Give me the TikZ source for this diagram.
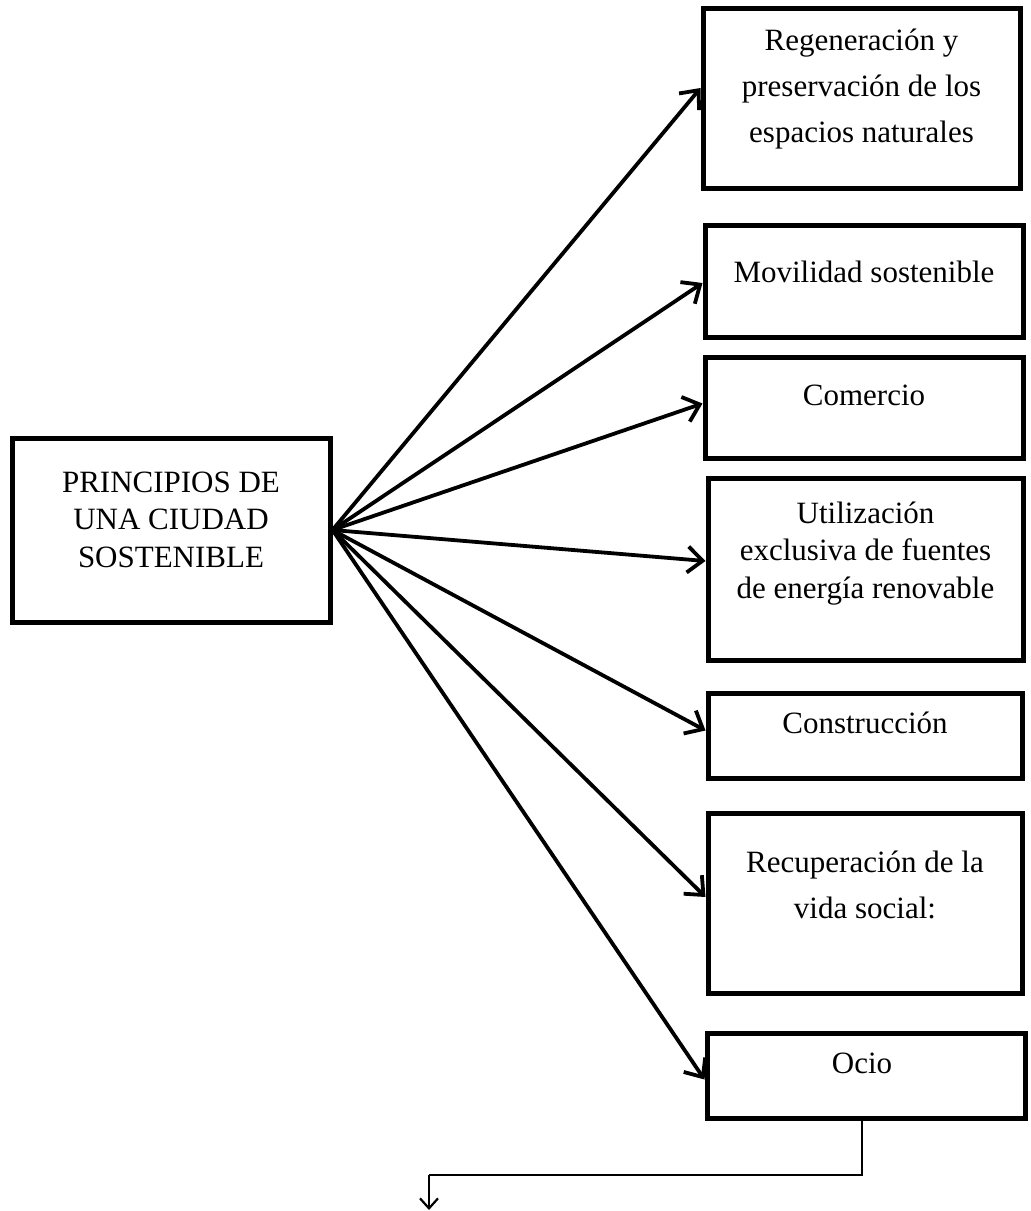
\documentclass[tikz,border=0pt]{standalone}
\usepackage{fontspec}
\setmainfont{Liberation Serif}
\usetikzlibrary{arrows.meta}
\begin{document}
\begin{tikzpicture}[x=1pt,y=-1pt,
  box/.style={draw, line width=5pt, inner sep=0pt, rectangle},
  lbl/.style={font=\fontsize{31}{46}\selectfont, align=center, anchor=base, inner sep=0pt},
  lbltight/.style={font=\fontsize{31}{37.5}\selectfont, align=center, anchor=base, inner sep=0pt},
  conn/.style={line width=3.8pt, -{Straight Barb[length=15pt,width=26pt,line width=3.8pt]}},
  flow/.style={line width=2.2pt, -{Straight Barb[length=10pt,width=18pt,line width=2.2pt]}}]
\useasboundingbox (0,0) rectangle (1031,1211);
\fill[white] (0,0) rectangle (1031,1211);

% boxes
\node[box, minimum width=318pt, minimum height=184pt] (L)  at (171,530) {};
\node[box, minimum width=317pt, minimum height=180pt] (b1) at (861.5,98) {};
\node[box, minimum width=318pt, minimum height=112pt] (b2) at (864,281) {};
\node[box, minimum width=318pt, minimum height=101pt] (b3) at (864,407.5) {};
\node[box, minimum width=315pt, minimum height=182pt] (b4) at (865.5,569) {};
\node[box, minimum width=314pt, minimum height=85pt]  (b5) at (865,735.5) {};
\node[box, minimum width=314pt, minimum height=180pt] (b6) at (865,903) {};
\node[box, minimum width=318pt, minimum height=85pt]  (b7) at (866,1075.5) {};

% texts (anchored at the baseline of their last line)
\node[lbltight] (tL) at (171,567) {PRINCIPIOS DE\\UNA CIUDAD\\SOSTENIBLE};
\node[lbl] (t1) at (861.5,142) {Regeneración y\\preservación de los\\espacios naturales};
\node[lbl] (t2) at (864,282) {Movilidad sostenible};
\node[lbl] (t3) at (864,405) {Comercio};
\node[lbltight] (t4) at (865.5,598) {Utilización\\exclusiva de fuentes\\de energía renovable};
\node[lbl] (t5) at (865,733) {Construcción};
\node[lbl] (t6) at (865,918) {Recuperación de la\\vida social:};
\node[lbl] (t7) at (862,1073) {Ocio};

% connectors
\draw[conn] (L.east) -- ([yshift=10pt]b1.west);
\draw[conn] (L.east) -- ([yshift=-2pt]b2.west);
\draw[conn] (L.east) -- ([yshift=4pt]b3.west);
\draw[conn] (L.east) -- ([yshift=8pt]b4.west);
\draw[conn] (L.east) -- ([yshift=5pt]b5.west);
\draw[conn] (L.east) -- ([yshift=6pt]b6.west);
\draw[conn] (L.east) -- ([yshift=-4pt]b7.west);

\coordinate (bend) at (429,1175);
\coordinate (end) at (429,1210);
\draw[line width=2.2pt] ([xshift=-4pt]b7.south) |- (bend);
\draw[flow] (bend) -- (end);
\end{tikzpicture}
\end{document}
